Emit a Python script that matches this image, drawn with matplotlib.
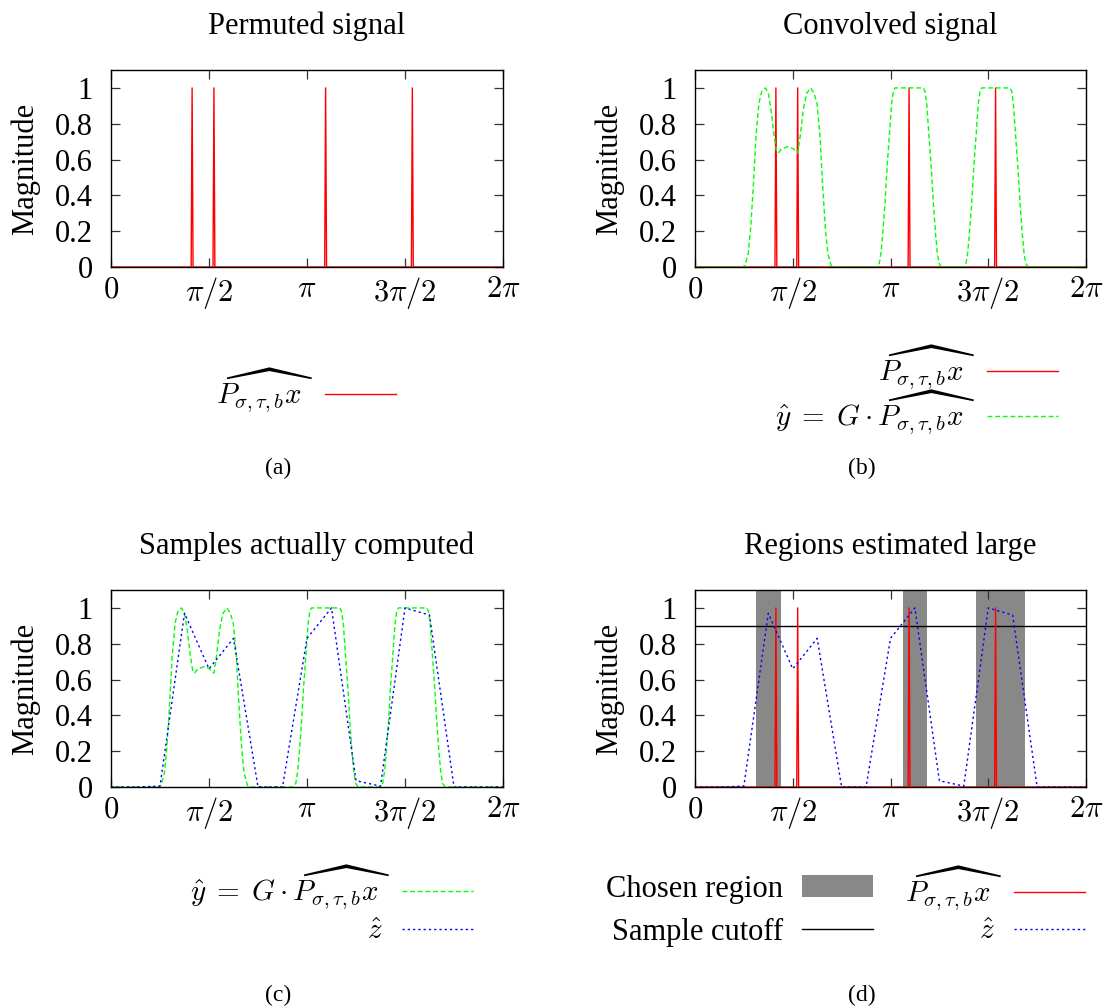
import numpy as np
import matplotlib
matplotlib.use("Agg")
import matplotlib.pyplot as plt

plt.rcParams['font.family'] = ['Liberation Serif', 'DejaVu Serif']
plt.rcParams['mathtext.fontset'] = 'cm'

W, H = 1104, 1008
FS = 22

# permuted signal: narrow spikes of height 1
red_x = [0.0, 1.285, 1.300, 1.315, 1.635, 1.650, 1.665,
         3.425, 3.440, 3.455, 4.815, 4.830, 4.845, 2 * np.pi]
red_y = [0, 0, 1, 0, 0, 1, 0, 0, 1, 0, 0, 1, 0, 0]

# convolved signal
green_x = [0.0, 0.766, 0.803, 0.857, 0.895, 0.937, 0.980, 1.028, 1.071, 1.130,
           1.178, 1.221, 1.269, 1.312, 1.339, 1.393, 1.500, 1.580, 1.634, 1.650,
           1.687, 1.741, 1.794, 1.859, 1.912, 1.960, 2.009, 2.052, 2.094, 2.132,
           2.185, 2.212,
           2.919, 2.962, 2.989, 3.016, 3.053, 3.085, 3.123, 3.160, 3.187, 3.214,
           3.669, 3.696, 3.723, 3.760, 3.798, 3.830, 3.867, 3.894, 3.921, 3.964,
           4.312, 4.355, 4.382, 4.408, 4.446, 4.478, 4.516, 4.553, 4.580, 4.607,
           5.062, 5.089, 5.115, 5.153, 5.190, 5.223, 5.260, 5.287, 5.314, 5.357,
           2 * np.pi]
green_y = [0, 0, 0.01, 0.08, 0.22, 0.45, 0.73, 0.916, 0.98, 1.0,
           0.97, 0.88, 0.74, 0.645, 0.636, 0.66, 0.673, 0.66, 0.64, 0.636,
           0.72, 0.88, 0.97, 1.0, 0.97, 0.916, 0.73, 0.45, 0.22, 0.08,
           0.01, 0,
           0, 0.02, 0.08, 0.18, 0.355, 0.55, 0.73, 0.916, 0.98, 1.0,
           1.0, 0.98, 0.916, 0.73, 0.55, 0.355, 0.18, 0.08, 0.02, 0,
           0, 0.02, 0.08, 0.18, 0.355, 0.55, 0.73, 0.916, 0.98, 1.0,
           1.0, 0.98, 0.916, 0.73, 0.55, 0.355, 0.18, 0.08, 0.02, 0,
           0]

# computed samples, one every pi/8
z_index = list(range(17))
z_vals = [0, 0, 0.005, 0.97, 0.66, 0.83, 0, 0, 0.83, 1.0, 0.035, 0.005,
          1.0, 0.96, 0, 0, 0]

# chosen regions, in sample index units
region_lo = [2.5, 8.5, 11.5]
region_hi = [3.5, 9.5, 13.5]
cutoff = 0.9

xtick_pos = [0, np.pi / 2, np.pi, 3 * np.pi / 2, 2 * np.pi]
xtick_labels = [r'$0$', r'$\pi/2$', r'$\pi$', r'$3\pi/2$', r'$2\pi$']
ytick_pos = [0, 0.2, 0.4, 0.6, 0.8, 1.0]
ytick_labels = ['0', '0.2', '0.4', '0.6', '0.8', '1']

P_LABEL = r'$\widehat{P_{\sigma,\tau,b}x}$'
Y_LABEL = r'$\hat{y}\;=\;G\cdot\widehat{P_{\sigma,\tau,b}x}$'
Z_LABEL = r'$\hat{z}$'

RED = '#ff0000'
GREEN = '#00ff00'
BLUE = '#0000ff'
GRAY = '#888888'


def rect(left, top, right, bottom):
    return [left / W, 1 - bottom / H, (right - left) / W, (bottom - top) / H]


def setup(ax, title):
    ax.set_xlim(0, 2 * np.pi)
    ax.set_ylim(0, 1.1)
    ax.set_xticks(xtick_pos)
    ax.set_xticklabels(xtick_labels)
    ax.set_yticks(ytick_pos)
    ax.set_yticklabels(ytick_labels)
    ax.tick_params(direction='in', top=True, right=True, length=6.5,
                   width=0.9, labelsize=FS, color='#333333')
    ax.tick_params(axis='y', pad=13)
    ax.tick_params(axis='x', pad=6)
    ax.set_ylabel('Magnitude', fontsize=FS)
    ax.yaxis.set_label_coords(-0.18, 0.5)
    ax.set_title(title, fontsize=FS, pad=26)
    for s in ax.spines.values():
        s.set_linewidth(1.0)


def key(handle, label, xr, yc, fs=FS, gap=19):
    # one-entry legend per row so the labels line up on their right edge
    em = fs * 100 / 72
    fig.legend([handle], [label], loc='center right',
               bbox_to_anchor=(xr / W, 1 - yc / H),
               frameon=False, markerfirst=False, borderpad=0,
               borderaxespad=0, handlelength=71 / em, handletextpad=gap / em,
               fontsize=fs)


fig = plt.figure(figsize=(W / 100, H / 100), dpi=100)

z_x = np.array(z_index) * np.pi / 8
MFS = 21

# (a)
ax = fig.add_axes(rect(111, 70, 503, 267))
setup(ax, 'Permuted signal')
r, = ax.plot(red_x, red_y, color=RED, lw=1.0)
key(r, P_LABEL, 396, 391, MFS, 12)

# (b)
ax = fig.add_axes(rect(695, 70, 1086, 267))
setup(ax, 'Convolved signal')
r, = ax.plot(red_x, red_y, color=RED, lw=1.0)
g, = ax.plot(green_x, green_y, color=GREEN, lw=1.0, dashes=(3.5, 2))
key(r, P_LABEL, 1058, 368, MFS, 12)
key(g, Y_LABEL, 1058, 413, MFS, 12)

# (c)
ax = fig.add_axes(rect(111, 590, 503, 787))
setup(ax, 'Samples actually computed')
g, = ax.plot(green_x, green_y, color=GREEN, lw=1.0, dashes=(3.5, 2))
b, = ax.plot(z_x, z_vals, color=BLUE, lw=1.0, dashes=(1.6, 2.2))
key(g, Y_LABEL, 473, 888, MFS, 12)
key(b, Z_LABEL, 473, 932, MFS, 19)

# (d)
ax = fig.add_axes(rect(695, 590, 1086, 787))
setup(ax, 'Regions estimated large')
for lo, hi in zip(region_lo, region_hi):
    span = ax.axvspan(lo * np.pi / 8, hi * np.pi / 8, color=GRAY, lw=0)
c = ax.axhline(cutoff, color='black', lw=1.0)
r, = ax.plot(red_x, red_y, color=RED, lw=1.0)
b, = ax.plot(z_x, z_vals, color=BLUE, lw=1.0, dashes=(1.6, 2.2))
key(span, 'Chosen region', 873, 889)
key(c, 'Sample cutoff', 873, 932)
key(r, P_LABEL, 1085, 889, MFS, 12)
key(b, Z_LABEL, 1085, 932, MFS, 19)

for lab, x, y in [('(a)', 278, 468), ('(b)', 862, 468),
                  ('(c)', 278, 995), ('(d)', 862, 995)]:
    fig.text(x / W, 1 - y / H, lab, ha='center', va='center', fontsize=17)

fig.savefig('out.png', dpi=100)
